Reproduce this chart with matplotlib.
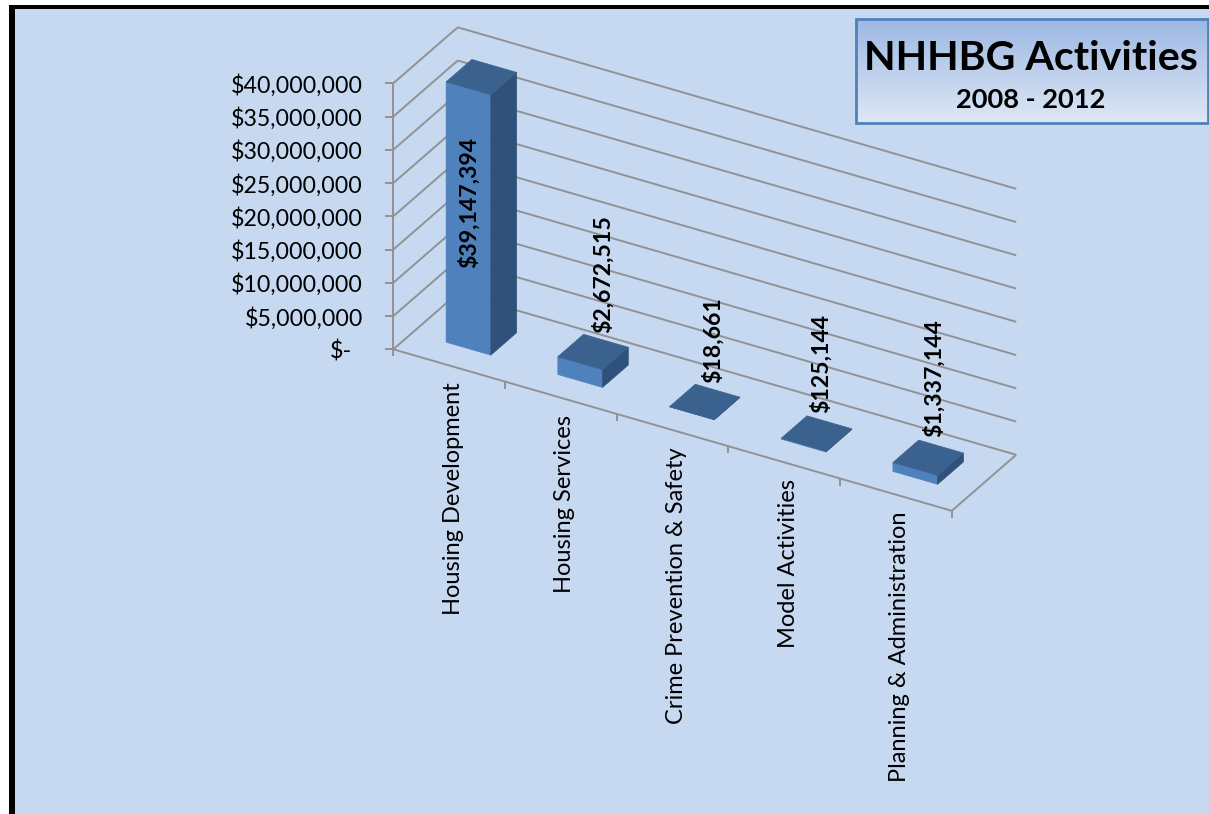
import matplotlib

matplotlib.use("Agg")
import matplotlib.pyplot as plt
import numpy as np
from matplotlib.patches import Polygon, Rectangle

plt.rcParams["font.family"] = ["Lato", "DejaVu Sans"]

categories = [
    "Housing Development",
    "Housing Services",
    "Crime Prevention & Safety",
    "Model Activities",
    "Planning & Administration",
]
values = [39147394, 2672515, 18661, 125144, 1337144]
value_labels = ["$39,147,394", "$2,672,515", "$18,661", "$125,144", "$1,337,144"]
y_ticks = [0, 5000000, 10000000, 15000000, 20000000, 25000000, 30000000, 35000000, 40000000]
y_tick_labels = [
    "$-", "$5,000,000", "$10,000,000", "$15,000,000", "$20,000,000",
    "$25,000,000", "$30,000,000", "$35,000,000", "$40,000,000",
]

# oblique projection of the chart box, in figure pixels
ORIGIN = np.array([393.3, 349.3])
CAT_STEP = np.array([111.7, 32.3])
DEPTH_VEC = np.array([64.4, -56.0])
VALUE_SPAN = 266.0
VALUE_MAX = 40000000

GRID = "#929292"
BG = "#C6D9F1"
FRONT = "#4F81BD"
SIDE = "#30517A"
TOP = "#3B628F"


def project(cat, value, depth):
    """Map (category position, value, depth 0-1) to a pixel position."""
    p = ORIGIN + cat * CAT_STEP + depth * DEPTH_VEC
    return p - np.array([0, VALUE_SPAN * value / VALUE_MAX])


def seg(ax, a, b, lw=1.4):
    ax.plot([a[0], b[0]], [a[1], b[1]], color=GRID, lw=lw, solid_capstyle="butt", zorder=1)


fig = plt.figure(figsize=(12.09, 8.14), dpi=100, facecolor="white")
ax = fig.add_axes([0, 0, 1, 1])
ax.axis("off")

# frame: black on the left and top, runs off the other two sides
ax.add_patch(Rectangle((9, 5), 1300, 900, fc="black", ec="none", zorder=0))
ax.add_patch(Rectangle((14.5, 9), 1300, 900, fc=BG, ec="none", zorder=0.1))

n = len(categories)

# walls and floor
for v, label in zip(y_ticks, y_tick_labels):
    front = project(0, v, 0)
    back = project(0, v, 1)
    seg(ax, front, back)
    seg(ax, back, project(n, v, 1))
    seg(ax, front, front + np.array([-8, 0]))
    pad = 41 if v == 0 else 30.5
    ax.text(front[0] - pad, front[1] + 2, label, ha="right", va="center", fontsize=16.7, color="black")
seg(ax, project(0, 0, 0), project(0, VALUE_MAX, 0))
seg(ax, project(0, 0, 0), project(n, 0, 0))
seg(ax, project(n, 0, 0), project(n, 0, 1))
for i in range(n + 1):
    p = project(i, 0, 0)
    seg(ax, p, p + np.array([0, 7]))

# bars
label_offsets = [(-13, 60), (9.5, -19), (7.5, -19), (4.5, -21), (5.5, -21)]
label_align = ["top", "bottom", "bottom", "bottom", "bottom"]
for i, v in enumerate(values):
    c0, c1, d0, d1 = i + 0.3, i + 0.7, 0.3, 0.7
    front = [project(c0, 0, d0), project(c1, 0, d0), project(c1, v, d0), project(c0, v, d0)]
    side = [project(c1, 0, d0), project(c1, 0, d1), project(c1, v, d1), project(c1, v, d0)]
    top = [project(c0, v, d0), project(c1, v, d0), project(c1, v, d1), project(c0, v, d1)]
    for pts, col in ((front, FRONT), (side, SIDE), (top, TOP)):
        ax.add_patch(Polygon(pts, closed=True, fc=col, ec=col, lw=0.5, zorder=2))

    anchor = project(i + 0.5, v, 0.5) + np.array(label_offsets[i])
    ax.text(anchor[0], anchor[1], value_labels[i], rotation=90, ha="center", va=label_align[i],
            fontsize=16.6, fontweight="bold", color="black", zorder=4)

    foot = project(i + 0.5, 0, 0) + np.array([4, 17])
    ax.text(foot[0], foot[1], categories[i], rotation=90, ha="center", va="top",
            fontsize=17, color="black", zorder=3)

# title box with a vertical gradient
gradient = np.linspace(0, 1, 100).reshape(-1, 1)
top_rgb = np.array(matplotlib.colors.to_rgb("#9DB8E4"))
bot_rgb = np.array(matplotlib.colors.to_rgb("#DEE7F5"))
ax.imshow(top_rgb + gradient[..., None] * (bot_rgb - top_rgb), extent=(856, 1208, 123, 19),
          aspect="auto", zorder=5)
ax.add_patch(Rectangle((856, 19), 352, 104, fc="none", ec="#4F81BD", lw=2, zorder=6))
ax.text(1031, 58, "NHHBG Activities", ha="center", va="center", fontsize=29.6,
        fontweight="bold", color="black", zorder=7)
ax.text(1031, 100.5, "2008 - 2012", ha="center", va="center", fontsize=19.6,
        fontweight="bold", color="black", zorder=7)

ax.set_xlim(0, 1209)
ax.set_ylim(814, 0)

fig.savefig("out.png", dpi=100)
